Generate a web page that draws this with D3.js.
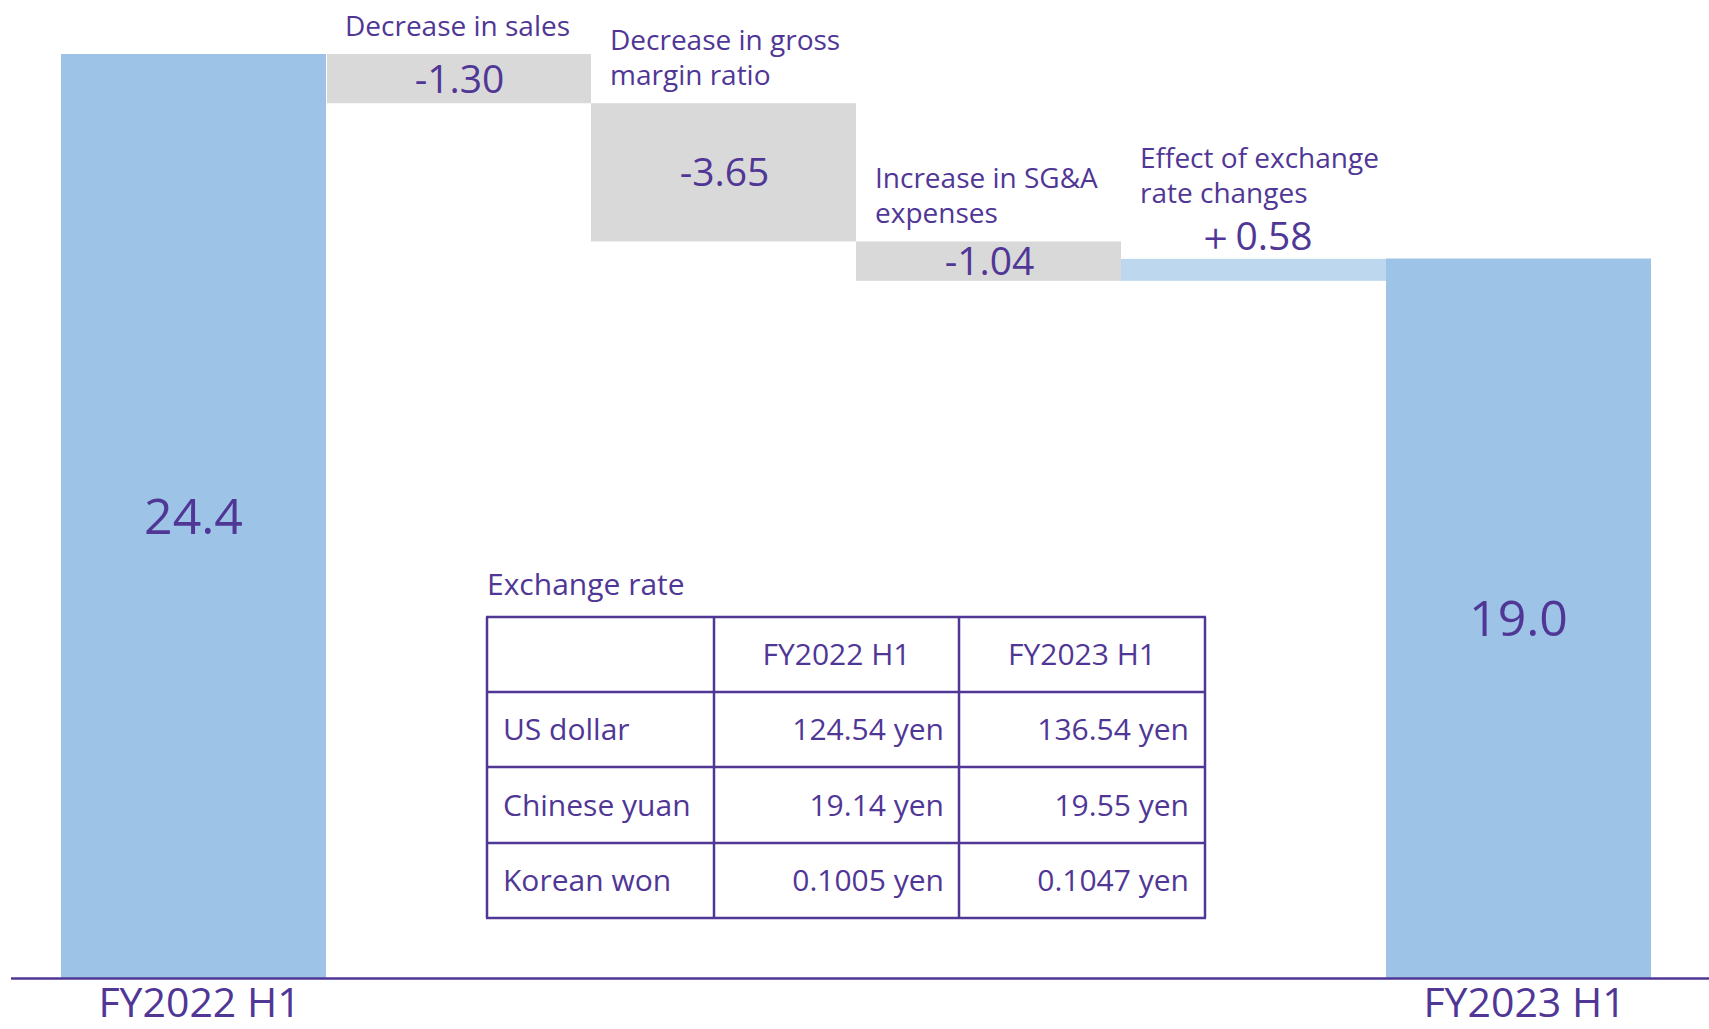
<!DOCTYPE html>
<html>
<head>
<meta charset="utf-8">
<script src="https://cdn.jsdelivr.net/npm/d3@7"></script>
<style>
  html, body { margin: 0; padding: 0; background: #ffffff; }
  svg { display: block; }
  text { font-family: "Open Sans", "Noto Sans", sans-serif; fill: #503796; }
</style>
</head>
<body>
<svg id="chart" width="1709" height="1029"></svg>
<script>
// ---- data ----
const categories = ["FY2022 H1", "Decrease in sales", "Decrease in gross margin ratio",
                    "Increase in SG&A expenses", "Effect of exchange rate changes", "FY2023 H1"];
const categoryLines = [["FY2022 H1"], ["Decrease in sales"], ["Decrease in gross", "margin ratio"],
                       ["Increase in SG&A", "expenses"], ["Effect of exchange", "rate changes"], ["FY2023 H1"]];
const kinds = ["total", "delta", "delta", "delta", "delta", "total"];
const values = [24.4, -1.30, -3.65, -1.04, 0.58, 19.0];
const valueLabels = ["24.4", "-1.30", "-3.65", "-1.04", "＋0.58", "19.0"];

const rateTitle = "Exchange rate";
const rateHeaders = ["", "FY2022 H1", "FY2023 H1"];
const currencies = ["US dollar", "Chinese yuan", "Korean won"];
const rates2022 = ["124.54 yen", "19.14 yen", "0.1005 yen"];
const rates2023 = ["136.54 yen", "19.55 yen", "0.1047 yen"];

// ---- layout ----
const svg = d3.select("#chart");
const purple = "#503796";
const x = d3.scaleBand().domain(categories).range([61, 1651]).padding(0);
const y = d3.scaleLinear().domain([0, 24.4]).range([978, 54]);

let run = 0;
const bars = categories.map((c, i) => {
  let y0, y1;
  if (kinds[i] === "total") { y0 = 0; y1 = values[i]; run = values[i]; }
  else { y0 = run; y1 = run + values[i]; run = y1; }
  return { c, i, y0, y1, v: values[i], kind: kinds[i] };
});
const color = d => d.kind === "total" ? "#9dc3e6" : (d.v < 0 ? "#d9d9d9" : "#bdd7ee");

svg.append("g").selectAll("rect").data(bars).join("rect")
  .attr("x", d => x(d.c) + (d.i === 1 ? 1 : 0))
  .attr("width", d => x.bandwidth() - (d.i === 1 ? 1 : 0))
  .attr("y", d => y(Math.max(d.y0, d.y1)))
  .attr("height", d => Math.abs(y(d.y0) - y(d.y1)))
  .attr("fill", color);

// baseline axis
svg.append("line").attr("x1", 11).attr("x2", 1709)
  .attr("y1", y(0) + 0.5).attr("y2", y(0) + 0.5)
  .attr("stroke", purple).attr("stroke-width", 2.5);

// value labels
svg.append("g").selectAll("text").data(bars).join("text")
  .attr("text-anchor", "middle")
  .attr("x", d => x(d.c) + x.bandwidth() / 2 + (d.kind === "total" ? 0 : 1))
  .attr("y", d => {
    const top = y(Math.max(d.y0, d.y1)), bot = y(Math.min(d.y0, d.y1));
    if (d.kind === "delta" && d.v > 0) return top - 9;
    return (top + bot) / 2 + (d.kind === "total" ? 18 : 14);
  })
  .style("font-size", d => d.kind === "total" ? "50px" : "39px")
  .text(d => valueLabels[d.i]);

// category labels above deltas
const catFs = 28, lineH = 35;
bars.filter(d => d.kind === "delta").forEach(d => {
  const top = y(Math.max(d.y0, d.y1));
  const lastCenter = top - (d.v > 0 ? 66 : 28);
  const lines = categoryLines[d.i];
  const t = svg.append("text")
    .attr("x", x(d.c) + 19)
    .style("font-size", catFs + "px");
  lines.forEach((ln, k) => {
    t.append("tspan").attr("x", x(d.c) + 19)
      .attr("y", lastCenter - (lines.length - 1 - k) * lineH + 10)
      .text(ln);
  });
});

// axis labels for totals
svg.append("g").selectAll("text").data(bars.filter(d => d.kind === "total")).join("text")
  .attr("text-anchor", "middle")
  .attr("x", d => x(d.c) + x.bandwidth() / 2 + 6)
  .attr("y", 1017)
  .style("font-size", "41px")
  .text(d => d.c);

// ---- exchange rate table ----
const colX = [487, 714, 959, 1205];
const rowY = [617, 692, 767, 843, 918];
const tfs = 30;
svg.append("text").attr("x", 487).attr("y", 585 + 10).style("font-size", tfs + "px").text(rateTitle);

const tg = svg.append("g");
rowY.forEach(ry => tg.append("line").attr("x1", colX[0] - 1).attr("x2", colX[3] + 1)
  .attr("y1", ry).attr("y2", ry).attr("stroke", purple).attr("stroke-width", 2.5));
colX.forEach(cx => tg.append("line").attr("x1", cx).attr("x2", cx)
  .attr("y1", rowY[0]).attr("y2", rowY[4]).attr("stroke", purple).attr("stroke-width", 2.5));

const midY = r => (rowY[r] + rowY[r + 1]) / 2 + 10.5;
rateHeaders.forEach((h, c) => {
  if (!h) return;
  tg.append("text").attr("text-anchor", "middle")
    .attr("x", (colX[c] + colX[c + 1]) / 2).attr("y", midY(0))
    .style("font-size", tfs + "px").text(h);
});
currencies.forEach((cur, r) => {
  tg.append("text").attr("x", colX[0] + 16).attr("y", midY(r + 1)).style("font-size", tfs + "px").text(cur);
  tg.append("text").attr("text-anchor", "end").attr("x", colX[2] - 15).attr("y", midY(r + 1))
    .style("font-size", tfs + "px").text(rates2022[r]);
  tg.append("text").attr("text-anchor", "end").attr("x", colX[3] - 16).attr("y", midY(r + 1))
    .style("font-size", tfs + "px").text(rates2023[r]);
});
</script>
</body>
</html>
